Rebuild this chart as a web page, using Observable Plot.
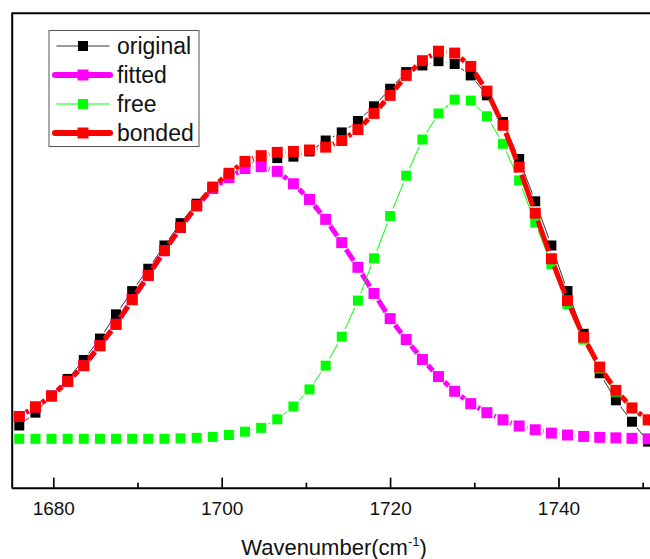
<!DOCTYPE html>
<html>
<head>
<meta charset="utf-8">
<script src="https://cdn.jsdelivr.net/npm/d3@7"></script>
<script src="https://cdn.jsdelivr.net/npm/@observablehq/plot@0.6"></script>
<style>
  html, body { margin: 0; padding: 0; background: #fff; }
  svg { display: block; }
</style>
</head>
<body>
<div id="chart"></div>
<script>
// ---- data ----
const wavenumber = [1675.90, 1677.82, 1679.73, 1681.65, 1683.56, 1685.48, 1687.39, 1689.31, 1691.22, 1693.14,
  1695.05, 1696.97, 1698.88, 1700.80, 1702.71, 1704.63, 1706.54, 1708.46, 1710.37, 1712.29,
  1714.20, 1716.12, 1718.03, 1719.95, 1721.86, 1723.78, 1725.69, 1727.61, 1729.52, 1731.44,
  1733.35, 1735.27, 1737.18, 1739.10, 1741.01, 1742.93, 1744.84, 1746.76, 1748.67, 1750.59];

const original = [0.132, 0.159, 0.195, 0.230, 0.270, 0.315, 0.366, 0.415, 0.462, 0.511,
  0.558, 0.599, 0.630, 0.653, 0.679, 0.694, 0.695, 0.698, 0.709, 0.732,
  0.749, 0.773, 0.804, 0.841, 0.876, 0.890, 0.899, 0.893, 0.869, 0.827,
  0.771, 0.693, 0.604, 0.511, 0.415, 0.325, 0.242, 0.185, 0.140, 0.098];

const fitted = [0.151, 0.171, 0.194, 0.225, 0.258, 0.300, 0.345, 0.397, 0.448, 0.500,
  0.549, 0.594, 0.631, 0.654, 0.673, 0.677, 0.667, 0.641, 0.608, 0.566,
  0.517, 0.465, 0.410, 0.357, 0.313, 0.271, 0.235, 0.204, 0.178, 0.159,
  0.144, 0.131, 0.123, 0.116, 0.112, 0.109, 0.107, 0.106, 0.105, 0.104];

const free = [0.104, 0.104, 0.104, 0.104, 0.104, 0.104, 0.104, 0.104, 0.104, 0.104,
  0.105, 0.106, 0.108, 0.112, 0.119, 0.127, 0.145, 0.172, 0.208, 0.258,
  0.319, 0.395, 0.484, 0.573, 0.658, 0.734, 0.789, 0.818, 0.816, 0.783,
  0.725, 0.648, 0.559, 0.471, 0.387, 0.313, 0.252, 0.203, 0.168, 0.143];

const bonded = [0.151, 0.171, 0.194, 0.225, 0.258, 0.300, 0.345, 0.397, 0.448, 0.500,
  0.549, 0.595, 0.634, 0.663, 0.688, 0.700, 0.707, 0.709, 0.712, 0.718,
  0.732, 0.755, 0.789, 0.827, 0.869, 0.900, 0.920, 0.916, 0.888, 0.836,
  0.764, 0.676, 0.579, 0.483, 0.395, 0.318, 0.255, 0.206, 0.169, 0.144];

const seriesNames = ["original", "fitted", "free", "bonded"];
const seriesValues = [original, fitted, free, bonded];

const majorTicks = [1680, 1700, 1720, 1740];
const minorTicks = [1690, 1710, 1730, 1750];
const xDomain = [1675.06, 1750.87];
const yDomain = [0, 1];
const xTitle = "Wavenumber(cm";
const xTitleSup = "-1";
const xTitleEnd = ")";

// ---- styles ----
const styles = [
  {color: "#000000", lineColor: "#333333", lineWidth: 1, r: 5.64, gap: 8},
  {color: "#ff00ff", lineColor: "#ff00ff", lineWidth: 5, r: 6.2, gap: 8},
  {color: "#00ff00", lineColor: "#00ff00", lineWidth: 1, r: 5.64, gap: 8},
  {color: "#ff0000", lineColor: "#ff0000", lineWidth: 5, r: 6.2, gap: 8}
];
const font = "'Liberation Sans', Arial, Helvetica, sans-serif";

const seriesMarks = seriesNames.flatMap((name, k) => {
  const vals = seriesValues[k];
  const st = styles[k];
  const segs = d3.range(wavenumber.length - 1).map(i => ({
    x1: wavenumber[i], y1: vals[i], x2: wavenumber[i + 1], y2: vals[i + 1]
  }));
  const pts = wavenumber.map((w, i) => ({x: w, y: vals[i]}));
  return [
    Plot.arrow(segs, {
      x1: "x1", y1: "y1", x2: "x2", y2: "y2",
      bend: 0, headLength: 0, insetStart: st.gap, insetEnd: st.gap,
      stroke: st.lineColor, strokeWidth: st.lineWidth, strokeLinecap: "butt"
    }),
    Plot.dot(pts, {x: "x", y: "y", symbol: "square", r: st.r, fill: st.color, stroke: "none"})
  ];
});

const svg = Plot.plot({
  width: 650,
  height: 559,
  marginLeft: 11.7,
  marginRight: 0,
  marginTop: 12.7,
  marginBottom: 71.3,
  style: {fontFamily: font, background: "white", color: "black", overflow: "hidden"},
  x: {domain: xDomain},
  y: {domain: yDomain, axis: null},
  marks: [
    ...seriesMarks,
    Plot.ruleX([xDomain[0]], {x: d => d, stroke: "black", strokeWidth: 2}),
    Plot.ruleY([yDomain[0], yDomain[1]], {y: d => d, stroke: "black", strokeWidth: 2}),
    Plot.tickX(majorTicks, {x: d => d, insetTop: 465, stroke: "black", strokeWidth: 1.7}),
    Plot.tickX(minorTicks, {x: d => d, insetTop: 470, stroke: "black", strokeWidth: 1.7}),
    Plot.axisX({ticks: majorTicks, tickSize: 0, tickPadding: 13, tickFormat: d => String(d),
      fontSize: 19, fill: "#111", label: null})
  ]
});

const s = d3.select(svg);
s.attr("font-family", font);

// x-axis title with superscript
const t = s.append("text")
  .attr("x", 334).attr("y", 555)
  .attr("text-anchor", "middle")
  .attr("font-size", 22)
  .attr("fill", "#111");
t.append("tspan").text(xTitle);
t.append("tspan").attr("font-size", 13).attr("dy", -9).text(xTitleSup);
t.append("tspan").attr("dy", 9).text(xTitleEnd);

// legend
const lg = s.append("g").attr("text-anchor", "start");
lg.append("rect")
  .attr("x", 49).attr("y", 30.5).attr("width", 150).attr("height", 116)
  .attr("fill", "white").attr("stroke", "#555").attr("stroke-width", 1);
seriesNames.forEach((name, k) => {
  const st = styles[k];
  const yy = 46 + 29 * k;
  const thick = st.lineWidth > 2;
  lg.append("line")
    .attr("x1", thick ? 55 : 56.5).attr("x2", thick ? 110 : 109.5)
    .attr("y1", yy).attr("y2", yy)
    .attr("stroke", st.lineColor)
    .attr("stroke-width", thick ? 6 : 1)
    .attr("stroke-linecap", thick ? "round" : "butt");
  const side = st.r * Math.sqrt(Math.PI);
  lg.append("rect")
    .attr("x", 83 - side / 2).attr("y", yy - side / 2)
    .attr("width", side).attr("height", side)
    .attr("fill", st.color);
  lg.append("text")
    .attr("x", 117).attr("y", yy).attr("dy", "0.36em")
    .attr("text-anchor", "start")
    .attr("font-size", 23).attr("fill", "#111")
    .text(name);
});

document.getElementById("chart").appendChild(svg);
</script>
</body>
</html>
